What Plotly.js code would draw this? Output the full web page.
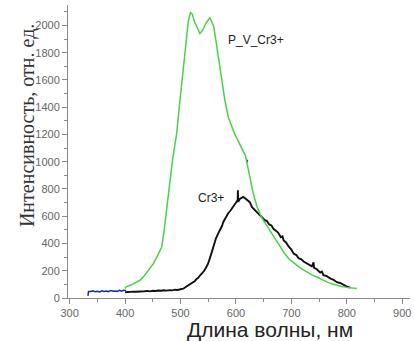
<!DOCTYPE html>
<html>
<head>
<meta charset="utf-8">
<script src="https://cdn.plot.ly/plotly-3.0.1.min.js"></script>
<style>html,body{margin:0;padding:0;background:#fff;}#chart{width:415px;height:341px;}</style>
</head>
<body>
<div id="chart"></div>
<script>
// P_V_Cr3+ series (green)
var greenX = [400,402,410,420,427,435,440,445,451,458,466,470,475,480,484,488,493,497,502,506,510,514,518,521,525,530,535,540,545,550,553,556,560,565,570,575,580,586,592,597,602,607,612,617,620,625,631,638,646,655,663,670,678,686,695,703,710,720,730,738,746,755,764,773,782,790,800,810,818];
var greenY = [70,82,95,115,130,165,190,215,252,305,374,480,667,830,960,1080,1205,1370,1572,1740,1890,2030,2095,2085,2030,1980,1940,1965,2010,2040,2055,2030,1990,1860,1720,1596,1450,1330,1260,1210,1170,1130,1090,1045,990,880,770,670,594,535,480,440,390,337,290,262,240,210,185,168,154,135,118,104,93,85,78,72,69];

// Cr3+ series (black)
var blackX = [400,405,410,415,420,425,430,435,440,445,450,455,460,465,470,475,480,485,490,495,500,505,510,515,520,523,526,529,532,535,538,542,546,548,550,555,558,560,564,568,572,575,577,581,586,590,595,600,602,603,603.5,604,607,610,613,616,620,625,629,634,637,640,644,647,652,656,660,664,668,671,676,681,684,686,690,695,700,704,709,713,718,722,727,732,737,740,741,746,752,755,758,764,770,776,782,788,794,800,806];
var blackY = [42,45,44,47,46,49,47,50,52,49,53,51,55,53,57,54,58,56,61,59,64,68,82,94,110,118,125,140,148,165,178,196,222,238,255,318,360,392,438,474,505,530,556,588,622,640,670,698,712,705,790,706,727,733,742,734,721,703,666,645,628,616,602,592,571,565,540,532,506,497,480,446,452,422,410,378,356,326,315,292,284,268,256,238,232,262,221,211,186,194,168,160,143,134,116,110,94,84,76];

// blue series
var blueX = [333,333.5,334,338,342,346,350,354,358,362,366,370,374,378,382,386,390,394,398,402,null,619,621];
var blueY = [15,40,48,47,52,46,50,45,53,48,51,47,55,49,52,48,56,50,58,52,null,990,1015];

// axis ticks
var xTicks = [300,400,500,600,700,800,900];
var yTicks = [0,200,400,600,800,1000,1200,1400,1600,1800,2000];

// labels
var seriesLabels = ['P_V_Cr3+','Cr3+'];
var xTitle = 'Длина волны, нм';
var yTitle = 'Интенсивность, отн. ед.';

var traces = [
  {x: blueX, y: blueY, mode: 'lines', line: {color: '#1c2aa8', width: 1.5}, connectgaps: false, hoverinfo: 'skip'},
  {x: blackX, y: blackY, mode: 'lines', line: {color: '#111111', width: 1.9}, hoverinfo: 'skip'},
  {x: greenX, y: greenY, mode: 'lines', line: {color: '#4cd04c', width: 1.5}, hoverinfo: 'skip'}
];

var axisCommon = {
  showgrid: false, zeroline: false, showline: true, linecolor: '#8a8a8a', linewidth: 1,
  ticks: 'outside', ticklen: 5, tickcolor: '#8a8a8a', tickwidth: 1,
  tickfont: {family: 'Liberation Sans, Arial, sans-serif', size: 11, color: '#666'}
};

var layout = {
  width: 415, height: 341,
  margin: {l: 68, r: 5, t: 5, b: 43},
  paper_bgcolor: '#fff', plot_bgcolor: '#fff',
  showlegend: false,
  xaxis: Object.assign({}, axisCommon, {
    range: [297, 914], tickvals: xTicks, ticktext: xTicks.map(String),
    minor: {ticks: 'outside', ticklen: 3, tickcolor: '#8a8a8a', dtick: 50, tick0: 300}
  }),
  yaxis: Object.assign({}, axisCommon, {
    range: [0, 2150], tickvals: yTicks, ticktext: yTicks.map(String),
    minor: {ticks: 'outside', ticklen: 3, tickcolor: '#8a8a8a', dtick: 100, tick0: 0}
  }),
  annotations: [
    {text: seriesLabels[0], xref: 'paper', yref: 'paper', x: 0.55, y: 0.88, showarrow: false,
     font: {family: 'Liberation Sans, Arial, sans-serif', size: 12, color: '#222'}, xanchor: 'center', yanchor: 'middle'},
    {text: seriesLabels[1], xref: 'paper', yref: 'paper', x: 0.418, y: 0.342, showarrow: false,
     font: {family: 'Liberation Sans, Arial, sans-serif', size: 12, color: '#222'}, xanchor: 'center', yanchor: 'middle'},
    {text: xTitle, xref: 'paper', yref: 'paper', x: 0.59, y: -0.108, showarrow: false,
     font: {family: 'Liberation Sans, Arial, sans-serif', size: 21, color: '#222'}, xanchor: 'center', yanchor: 'middle'},
    {text: yTitle, xref: 'paper', yref: 'paper', x: -0.12, y: 0.59, showarrow: false, textangle: -90,
     font: {family: 'Liberation Serif, Times New Roman, serif', size: 20, color: '#333'}, xanchor: 'center', yanchor: 'middle'}
  ]
};

Plotly.newPlot('chart', traces, layout, {displayModeBar: false, staticPlot: true});
</script>
</body>
</html>
